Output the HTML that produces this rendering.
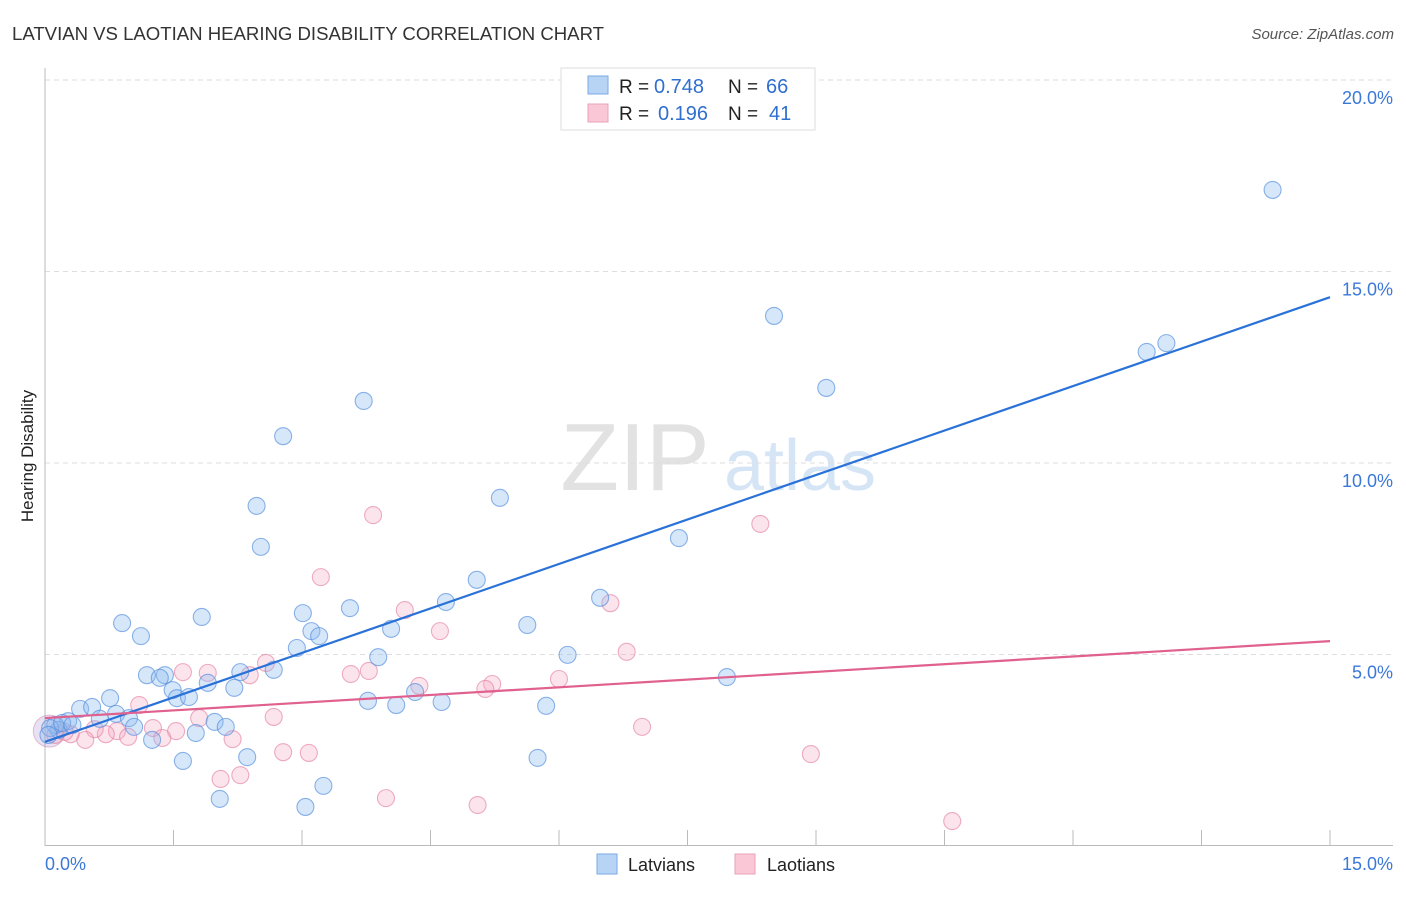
<!DOCTYPE html>
<html><head><meta charset="utf-8"><style>
body{margin:0;background:#fff;font-family:"Liberation Sans",sans-serif;}
svg text{font-family:"Liberation Sans",sans-serif;}
</style></head><body>
<svg id="chart" width="1406" height="892" xmlns="http://www.w3.org/2000/svg">
<text x="12" y="40" font-size="18.6" fill="#333" textLength="592">LATVIAN VS LAOTIAN HEARING DISABILITY CORRELATION CHART</text>
<text x="1394" y="39" font-size="15" fill="#555" font-style="italic" text-anchor="end">Source: ZipAtlas.com</text>
<text x="33" y="456" font-size="17" fill="#222" text-anchor="middle" transform="rotate(-90 33 456)">Hearing Disability</text>
<g>
<text x="635" y="490" font-size="96" fill="#e2e2e2" font-family="Liberation Serif" text-anchor="middle">ZIP</text>
<text x="800" y="490" font-size="72" fill="#d6e5f5" text-anchor="middle">atlas</text>
</g>
<g id="grid"></g><g id="axes"></g><g id="marks"></g>
<g>
<rect x="561" y="68" width="254" height="62" fill="#fff" stroke="#ddd"/>
<rect x="588" y="76" width="20" height="18" fill="#b8d4f5" stroke="#7aaae6"/>
<rect x="588" y="104" width="20" height="18" fill="#f9c7d6" stroke="#eaa0b8"/>
<text x="619" y="93" font-size="19" fill="#222">R =</text>
<text x="654" y="93" font-size="20" fill="#2f6fcf">0.748</text>
<text x="728" y="93" font-size="19" fill="#222">N =</text>
<text x="766" y="93" font-size="20" fill="#2f6fcf">66</text>
<text x="619" y="120" font-size="19" fill="#222">R =</text>
<text x="658" y="120" font-size="20" fill="#2f6fcf">0.196</text>
<text x="728" y="120" font-size="19" fill="#222">N =</text>
<text x="769" y="120" font-size="20" fill="#2f6fcf">41</text>
</g>
<g>
<rect x="597" y="854" width="20" height="20" fill="#b8d4f5" stroke="#7aaae6"/>
<text x="628" y="871" font-size="18" fill="#222">Latvians</text>
<rect x="735" y="854" width="20" height="20" fill="#f9c7d6" stroke="#eaa0b8"/>
<text x="767" y="871" font-size="18" fill="#222">Laotians</text>
</g>
</svg>
<script>
const blueX=[14.33,8.51,13.09,12.86,9.12,3.72,2.78,5.31,2.47,7.40,2.52,5.04,6.48,4.68,3.56,3.01,1.83,0.90,5.63,4.04,3.11,1.12,3.20,2.94,3.89,6.10,1.19,1.40,2.28,2.67,1.34,7.96,1.90,1.49,2.21,4.32,0.76,1.54,1.68,3.77,4.63,4.10,5.85,0.41,0.55,0.83,0.98,0.64,0.27,1.98,2.11,1.04,1.76,1.25,0.16,0.12,2.36,5.75,1.61,3.25,2.04,3.04,0.06,0.20,0.32,0.04];
const blueY=[17.13,13.84,13.13,12.90,11.96,11.62,10.70,9.09,8.88,8.04,7.81,6.95,6.48,6.37,6.21,6.08,5.98,5.82,5.77,5.67,5.61,5.48,5.48,5.17,4.93,4.99,4.46,4.46,4.54,4.60,4.39,4.41,4.26,4.07,4.13,4.02,3.86,3.86,3.89,3.79,3.76,3.68,3.66,3.58,3.63,3.45,3.34,3.32,3.26,3.24,3.11,3.11,2.95,2.77,3.03,3.16,2.32,2.30,2.22,1.57,1.23,1.02,3.08,3.21,3.16,2.90];
const pinkX=[3.83,8.35,3.22,4.20,6.60,4.61,6.79,2.58,1.61,1.90,3.57,3.78,2.39,1.10,5.22,5.14,4.37,6.00,2.67,1.80,6.97,1.26,1.53,1.37,0.84,2.19,0.71,0.97,0.58,0.47,0.30,2.78,3.08,8.94,2.28,2.05,3.98,5.05,10.59,0.12,0.23];
const pinkY=[8.64,8.41,7.02,6.16,6.34,5.61,5.07,4.78,4.54,4.52,4.49,4.57,4.46,3.68,4.23,4.10,4.18,4.36,3.37,3.34,3.11,3.08,3.00,2.82,3.00,2.79,2.92,2.85,3.05,2.77,2.92,2.45,2.43,2.40,1.85,1.75,1.25,1.07,0.65,2.90,2.98];
const blueLine=[2.72,14.33];
const pinkLine=[3.34,5.35];
const yTicks=[5,10,15,20];
const xTicks=[0,1.5,3,4.5,6,7.5,9,10.5,12,13.5,15];
const NS="http://www.w3.org/2000/svg";
const sx=v=>45+v*1285/15, sy=v=>846-v*38.3;
function mk(t,a,p){const e=document.createElementNS(NS,t);for(const k in a)e.setAttribute(k,a[k]);p.appendChild(e);return e;}
const grid=document.getElementById('grid'),axes=document.getElementById('axes'),marks=document.getElementById('marks');
yTicks.forEach(v=>{
 const l=mk('line',{x1:45,x2:1393,y1:sy(v),y2:sy(v),stroke:'#ddd','stroke-dasharray':'5,4'},grid);
 
 
 const t=mk('text',{x:1393,y:sy(v)+24,'font-size':18,fill:'#3b78d8','text-anchor':'end'},axes);
 t.textContent=v.toFixed(1)+'%';
 
 
});
mk('line',{x1:45,x2:45,y1:68,y2:846,stroke:'#bbb'},axes);
mk('line',{x1:45,x2:1393,y1:845.5,y2:845.5,stroke:'#bbb'},axes);
xTicks.forEach(v=>{
 const l=mk('line',{x1:sx(v),x2:sx(v),y1:830,y2:846,stroke:'#bbb'},axes);
 
 
});
[[0,'start'],[15,'end']].forEach(([v,a])=>{
 const t=mk('text',{x:sx(v)+(v?63:0),y:870,'font-size':18,fill:'#3b78d8','text-anchor':a},axes);
 t.textContent=v.toFixed(1)+'%';
 
 
});
const big=mk('circle',{cx:sx(0.05),cy:sy(3.0),r:16,fill:'rgba(150,120,200,0.22)',stroke:'rgba(200,120,170,0.45)'},marks);


pinkX.forEach((x,i)=>{
 const c=mk('circle',{cx:sx(x),cy:sy(pinkY[i]),r:8.5,fill:'rgba(244,165,192,0.3)',stroke:'rgba(228,130,165,0.65)','stroke-width':1.1},marks);
 
 
});
blueX.forEach((x,i)=>{
 const c=mk('circle',{cx:sx(x),cy:sy(blueY[i]),r:8.5,fill:'rgba(140,185,240,0.35)',stroke:'rgba(80,140,220,0.65)','stroke-width':1.1},marks);
 
 
});
const bl=mk('line',{x1:sx(0),x2:sx(15),y1:sy(blueLine[0]),y2:sy(blueLine[1]),stroke:'#2a72d8','stroke-width':2.2},marks);


const pl=mk('line',{x1:sx(0),x2:sx(15),y1:sy(pinkLine[0]),y2:sy(pinkLine[1]),stroke:'#e0608e','stroke-width':2.2},marks);


</script>
</body></html>
